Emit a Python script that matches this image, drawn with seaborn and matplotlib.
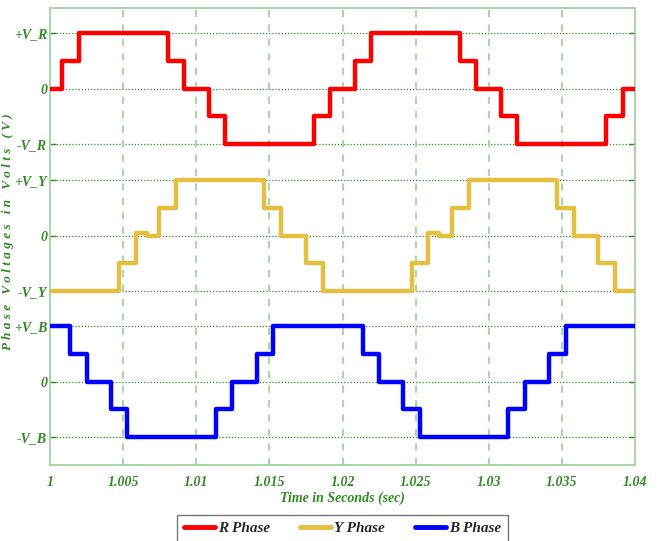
import numpy as np
import pandas as pd
import matplotlib
matplotlib.use("Agg")
import matplotlib.pyplot as plt
import seaborn as sns

# step waveforms: switching instants (s) and levels (per unit of phase peak)
r_times = [1.0, 1.00085, 1.00195, 1.00805, 1.00915, 1.01085, 1.01195, 1.01805, 1.01915,
           1.02085, 1.02195, 1.02805, 1.02915, 1.03085, 1.03195, 1.03805, 1.03915, 1.04]
r_levels = [0, 0.5, 1, 0.5, 0, -0.5, -1, -0.5, 0, 0.5, 1, 0.5, 0, -0.5, -1, -0.5, 0, 0]

y_times = [1.0, 1.00472, 1.00586, 1.00661, 1.00748, 1.00862, 1.01466, 1.0158, 1.01748, 1.01864,
           1.02472, 1.02586, 1.02661, 1.02748, 1.02862, 1.03466, 1.0358, 1.03748, 1.03864, 1.04]
y_levels = [-1, -0.5, 0.05, 0, 0.5, 1, 0.5, 0, -0.5, -1,
            -0.5, 0.05, 0, 0.5, 1, 0.5, 0, -0.5, -1, -1]

b_times = [1.0, 1.00137, 1.00251, 1.00415, 1.00527, 1.01135, 1.01247, 1.01413, 1.01527,
           1.02137, 1.02251, 1.02415, 1.02527, 1.03135, 1.03247, 1.03413, 1.03527, 1.04]
b_levels = [1, 0.5, 0, -0.5, -1, -0.5, 0, 0.5, 1, 0.5, 0, -0.5, -1, -0.5, 0, 0.5, 1, 1]

phases = ["R Phase", "Y Phase", "B Phase"]
colors = ["#ff0000", "#e3c042", "#0000ff"]
x_ticks = [1.0, 1.005, 1.01, 1.015, 1.02, 1.025, 1.03, 1.035, 1.04]
x_ticklabels = ["1", "1.005", "1.01", "1.015", "1.02", "1.025", "1.03", "1.035", "1.04"]
y_ticklabels = ["+V_R", "0", "-V_R", "+V_Y", "0", "-V_Y", "+V_B", "0", "-V_B"]

# vertical stacking of the three traces on one axis
offsets = [0.0, -2.65, -5.28]

frames = []
for name, t, v, off in zip(phases, [r_times, y_times, b_times],
                           [r_levels, y_levels, b_levels], offsets):
    frames.append(pd.DataFrame({"t": t, "v": np.array(v) + off, "phase": name}))
df = pd.concat(frames, ignore_index=True)

sns.set_style("white")
plt.rcParams["font.family"] = ["Liberation Serif", "DejaVu Serif"]

fig = plt.figure(figsize=(6.59, 5.41), dpi=100)
ax = fig.add_axes([50 / 659, 1 - 465 / 541, 585 / 659, 457 / 541])

green = "#2f8a22"
light = "#9fd49a"

sns.lineplot(data=df, x="t", y="v", hue="phase", palette=colors, hue_order=phases,
             drawstyle="steps-post", linewidth=3.2, estimator=None, sort=False,
             ax=ax, legend=True, zorder=3)

ax.set_xlim(1.0, 1.04)
ax.set_ylim(-6.78, 1.45)

y_ticks = []
for off in offsets:
    y_ticks += [off + 1, off, off - 1]
ax.set_yticks(y_ticks)
ax.set_yticklabels(y_ticklabels)
ax.set_xticks(x_ticks)
ax.set_xticklabels(x_ticklabels)

for yv in y_ticks:
    ax.axhline(yv, color=green, lw=0.9, ls=(0, (1, 1.5)), zorder=1)
for xv in x_ticks[1:-1]:
    ax.axvline(xv, color=light, lw=1.3, ls=(0, (4, 4)), zorder=1)

for s in ax.spines.values():
    s.set_color(light)
    s.set_linewidth(1.3)

ax.tick_params(axis="both", colors=green, direction="in", length=4, width=1,
               left=True, right=True, bottom=False, top=False)
for lab in ax.get_xticklabels() + ax.get_yticklabels():
    lab.set_fontstyle("italic")
    lab.set_fontweight("bold")
    lab.set_color(green)
    lab.set_fontsize(10)
ax.tick_params(axis="x", pad=8)
ax.tick_params(axis="y", pad=2)

ax.set_xlabel("Time in Seconds (sec)", color=green, fontstyle="italic",
              fontweight="bold", fontsize=10, labelpad=2)
ax.set_ylabel("P h a s e   V o l t a g e s   i n   V o l t s   ( V )", color=green,
              fontstyle="italic", fontweight="bold", fontsize=9.5)
ax.yaxis.set_label_coords(-0.062, 0.51)

leg = ax.legend(loc="upper center", bbox_to_anchor=(0.5, -0.092), ncol=3,
                frameon=True, fancybox=False, edgecolor="#555555",
                prop={"style": "italic", "weight": "bold", "size": 11},
                columnspacing=2.0, handlelength=2.0, handletextpad=0.2,
                borderpad=0.45)
leg.get_frame().set_linewidth(1.0)
for h in leg.get_lines():
    h.set_linewidth(3.5)

fig.savefig("out.png", dpi=100)
